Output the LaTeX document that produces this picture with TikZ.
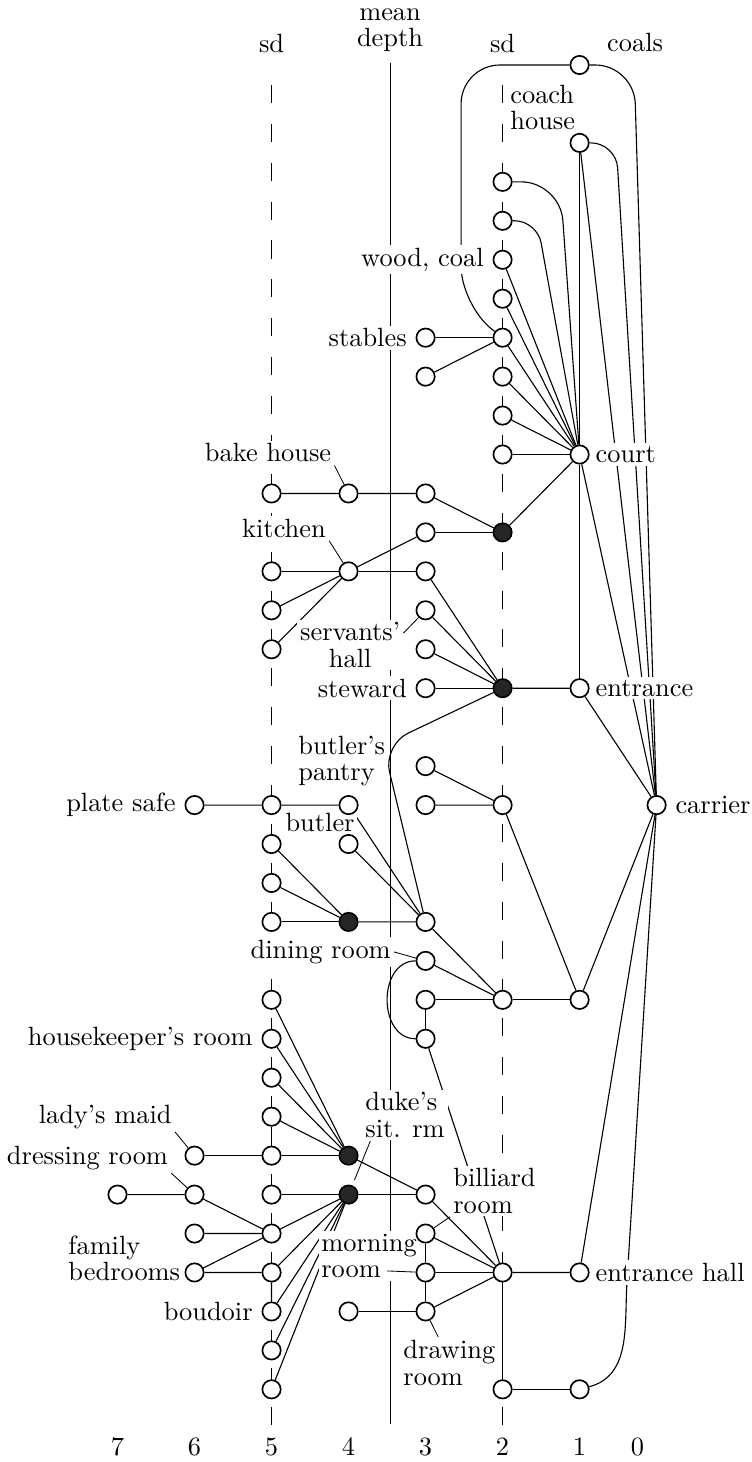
\documentclass[tikz,border=0pt]{standalone}
\usepackage{tikz}
\usetikzlibrary{positioning}
\pgfdeclarelayer{front}
\pgfsetlayers{main,front}
\tikzset{
  room/.style={circle,draw,fill=white,line width=0.6pt,inner sep=0pt,minimum size=6.6pt},
  hub/.style={room,fill=black!85},
  lbl/.style={fill=white,inner sep=1pt,font=\fontsize{9.5}{9.5}\selectfont},
  lead/.style={line width=0.3pt},
  sdline/.style={line width=0.35pt,dash pattern=on 6.5pt off 7.5pt}
}

\begin{document}
\begin{tikzpicture}[x={(-27.72pt,0pt)},y={(0pt,-14.02pt)},line width=0.45pt]
  \useasboundingbox (8.526,-1.669) rectangle (-1.227,35.866);

  % depth scale
  \draw[sdline] (5,0.51) -- (5,34.95);
  \draw[sdline] (2,0.51) -- (2,34.95);
  \draw[line width=0.35pt] (3.461,-0.05) -- (3.461,34.89);
  \node[lbl] (sdl) at (5,-0.56) {sd};
  \node[lbl,align=center] (mean) at (3.461,-0.9) {mean\\depth};
  \node[lbl] (sdr) at (2,-0.56) {sd};
  \foreach \d in {1,...,7}
    \node[lbl] (num\d) at (\d,35.48) {\d};
  \node[lbl] (num0) at (0.25,35.48) {0};

  % rooms, by depth (kept on top of names and lines)
  \begin{pgfonlayer}{front}
    \node[room] (n0r19) at (0,19) {};
    \foreach \r in {0,2,10,16,24,31,34}
      \node[room] (n1r\r) at (1,\r) {};
    \foreach \r in {3,...,10,19,24,31,34}
      \node[room] (n2r\r) at (2,\r) {};
    \foreach \r in {12,16}
      \node[hub] (n2r\r) at (2,\r) {};
    \foreach \r in {7,8,11,12,13,14,15,16,18,19,22,23,24,25,29,30,31,32}
      \node[room] (n3r\r) at (3,\r) {};
    \foreach \r in {11,13,19,20,32}
      \node[room] (n4r\r) at (4,\r) {};
    \foreach \r in {22,28,29}
      \node[hub] (n4r\r) at (4,\r) {};
    \foreach \r in {11,13,14,15,19,20,21,22,24,25,26,27,28,29,30,31,32,33,34}
      \node[room] (n5r\r) at (5,\r) {};
    \foreach \r in {19,28,29,30,31}
      \node[room] (n6r\r) at (6,\r) {};
    \node[room] (n7r29) at (7,29) {};
  \end{pgfonlayer}

  % coals, coach house, court
  \draw[rounded corners=14pt] (n1r0) -- (2.539,0) -- (2.539,6.16) -- (n2r7);
  \draw[rounded corners=14pt] (n1r0) -- (0.292,0) -- (n0r19);
  \draw[rounded corners=9pt] (n1r2) -- (0.526,2) -- (n0r19);
  \draw (n1r2) -- (n0r19);
  \draw (n1r2) -- (n1r10);
  \draw[rounded corners=14pt] (n2r3) -- (1.253,3) -- (n1r10);
  \draw[rounded corners=8pt] (n2r4) -- (1.552,4) -- (n1r10);
  \foreach \r in {5,...,10}
    \draw (n2r\r) -- (n1r10);
  \draw (n3r7) -- (n2r7);
  \draw (n3r8) -- (n2r7);
  \draw (n1r10) -- (n0r19);
  \draw (n1r10) -- (n1r16);
  \draw (n1r10) -- (n2r12);

  % kitchen and stewards side
  \draw (n5r11) -- (n4r11) -- (n3r11) -- (n2r12);
  \draw (n3r12) -- (n2r12);
  \draw (n5r13) -- (n4r13) -- (n3r13);
  \draw (n4r13) -- (n3r12);
  \draw (n5r14) -- (n4r13);
  \draw (n5r15) -- (n4r13);
  \foreach \r in {13,...,16}
    \draw (n3r\r) -- (n2r16);
  \draw (n2r16) -- (n1r16) -- (n0r19);
  \draw[rounded corners=10pt] (n2r16) -- (3.552,17.46) -- (n3r22);

  % butler and dining room
  \draw (n6r19) -- (n5r19) -- (n4r19) -- (n3r22);
  \draw (n4r20) -- (n3r22);
  \foreach \r in {20,21,22}
    \draw (n5r\r) -- (n4r22);
  \draw (n4r22) -- (n3r22) -- (n2r24);
  \draw (n3r18) -- (n2r19);
  \draw (n3r19) -- (n2r19) -- (n1r24) -- (n0r19);
  \draw (n3r23) -- (n2r24);
  \draw (n3r24) -- (n2r24) -- (n1r24);
  \draw (n3r24) -- (n3r25);
  \draw (n3r23) to[out=180,in=180,looseness=1.25] (n3r25);
  \draw (n3r25) -- (n2r31);

  % family rooms
  \foreach \r in {24,...,28}
    \draw (n5r\r) -- (n4r28);
  \draw (n5r27) -- (n5r28);
  \draw (n6r28) -- (n5r28);
  \draw (n4r28) -- (n3r29) -- (n2r31);
  \draw (n7r29) -- (n6r29) -- (n5r30);
  \draw (n5r29) -- (n4r29) -- (n3r29);
  \foreach \r in {30,...,34}
    \draw (n5r\r) -- (n4r29);
  \draw (n6r30) -- (n5r30) -- (n6r31) -- (n5r31) -- (n5r32);

  % reception rooms
  \draw (n3r30) -- (n3r31) -- (n3r32);
  \foreach \r in {30,31,32}
    \draw (n3r\r) -- (n2r31);
  \draw (n4r32) -- (n3r32);
  \draw (n2r31) -- (n1r31) -- (n0r19);
  \draw (n2r31) -- (n2r34) -- (n1r34);
  \draw (n0r19) -- (0.383,31.19) to[out=-94,in=15] (n1r34);

  % room names
  \node[lbl] (lcoals) at (0.279,-0.565) {coals};
  \node[lbl,align=left,anchor=west] (lcoach) at (1.942,1.09) {coach\\house};
  \node[lbl,left=2pt of n2r5] (lwood) {wood, coal};
  \node[lbl,left=2pt of n3r7] (lstables) {stables};
  \node[lbl,right=1pt of n1r10] (lcourt) {court};
  \node[lbl] (lbake) at (5.045,9.96) {bake house};
  \node[lbl] (lkitchen) at (4.838,11.89) {kitchen};
  \node[lbl,align=center] (lservants) at (3.979,14.89) {servants'\\hall};
  \node[lbl,left=2pt of n3r16] (lsteward) {steward};
  \node[lbl,right=1pt of n1r16] (lentrance) {entrance};
  \node[lbl,align=left,anchor=west] (lpantry) at (4.695,17.87) {butler's\\pantry};
  \node[lbl] (lbutler) at (4.37,19.46) {butler};
  \node[lbl,left=2pt of n6r19] (lplate) {plate safe};
  \node[lbl,right=2pt of n0r19] (lcarrier) {carrier};
  \node[lbl,anchor=east] (ldining) at (3.409,22.77) {dining room};
  \node[lbl,left=2pt of n5r25] (lhouse) {housekeeper's room};
  \node[lbl] (llady) at (7.16,27.0) {lady's maid};
  \node[lbl] (ldressing) at (7.39,28.06) {dressing room};
  \node[lbl,align=left,anchor=west] (lduke) at (3.825,26.96) {duke's\\sit. rm};
  \node[lbl,align=left,anchor=west] (lfamily) at (7.68,30.63) {family\\bedrooms};
  \node[lbl,left=2pt of n5r32] (lboudoir) {boudoir};
  \node[lbl,align=left,anchor=west] (lmorning) at (4.396,30.58) {morning\\room};
  \node[lbl,align=left,anchor=west] (lbilliard) at (2.682,28.91) {billiard\\room};
  \node[lbl,align=left,anchor=west] (ldrawing) at (3.33,33.32) {drawing\\room};
  \node[lbl,right=1pt of n1r31] (lhall) {entrance hall};

  % leaders
  \draw[lead] (lbake.south east) -- (n4r11);
  \draw[lead] (lkitchen.south east) -- (n4r13);
  \draw[lead] ([yshift=-5pt]lservants.north east) -- (n3r14);
  \draw[lead] (ldining.east) -- (n3r23);
  \draw[lead] (llady.south east) -- (n6r28);
  \draw[lead] (ldressing.south east) -- (n6r29);
  \draw[lead,shorten >=2pt] ([xshift=3pt]lduke.south west) -- (n4r29);
  \coordinate (mroom) at (3.5,30.96);
  \draw[lead] (mroom) -- (n3r31);
  \draw[lead] (lbilliard.south west) -- (n3r30);
  \draw[lead] ([xshift=-4pt]ldrawing.north) -- (n3r32);
\end{tikzpicture}
\end{document}
